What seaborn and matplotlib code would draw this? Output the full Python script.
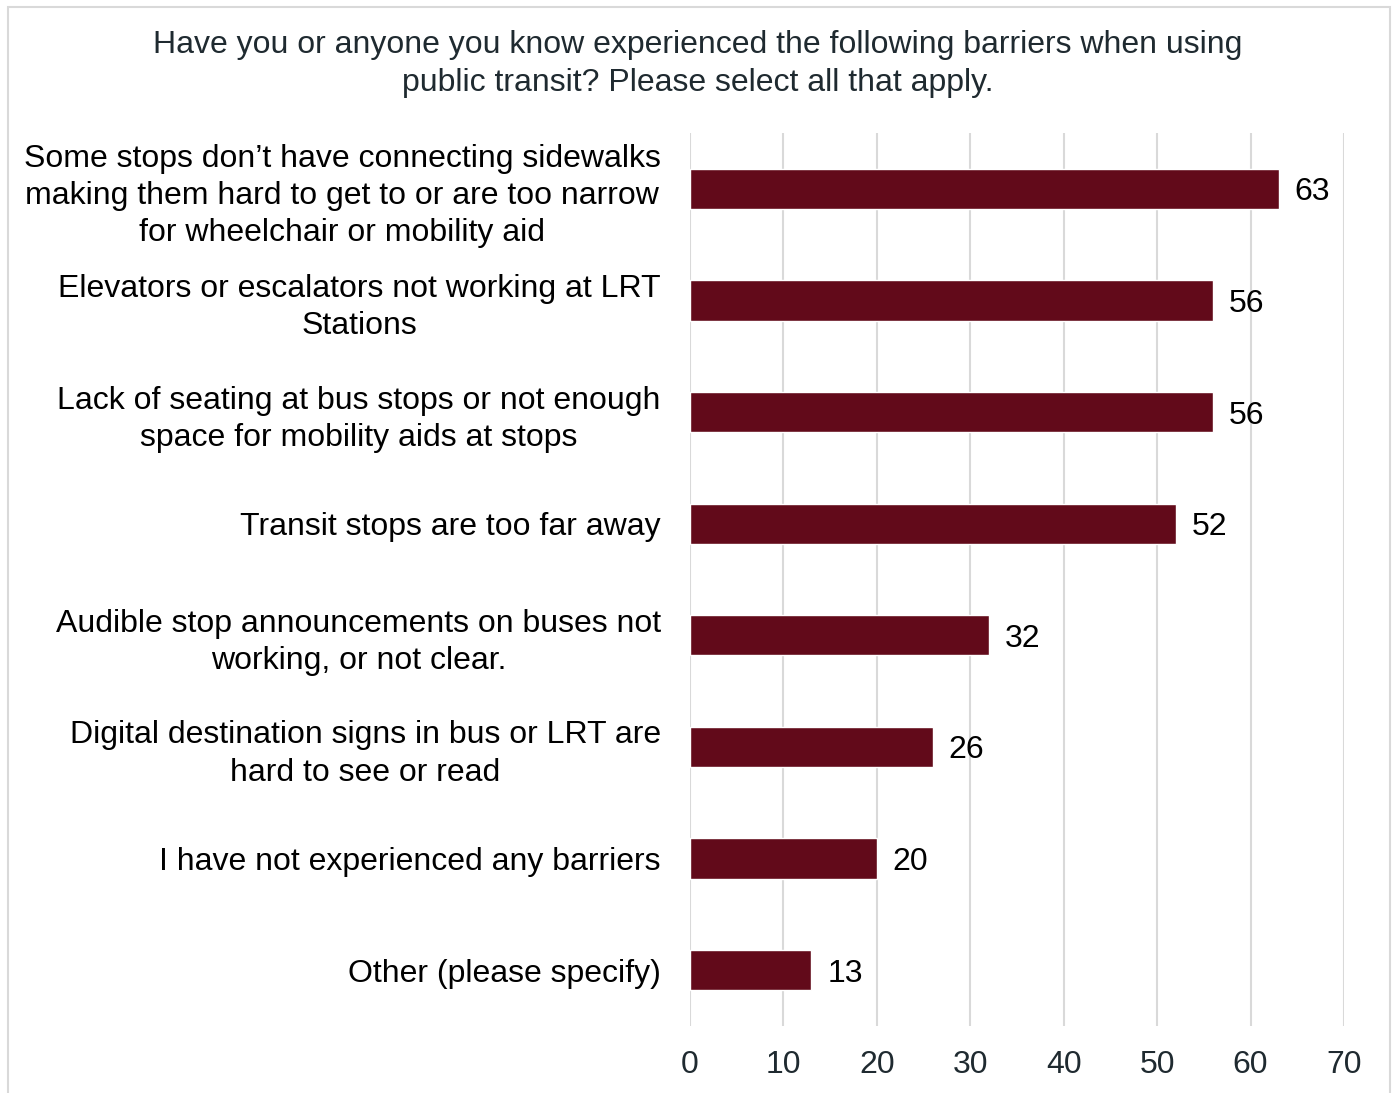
import matplotlib
matplotlib.use("Agg")
import matplotlib.pyplot as plt
import seaborn as sns
import pandas as pd
from matplotlib.patches import Rectangle

categories = [
    "Some stops don\u2019t have connecting sidewalks\nmaking them hard to get to or are too narrow\nfor wheelchair or mobility aid",
    "Elevators or escalators not working at LRT\nStations",
    "Lack of seating at bus stops or not enough\nspace for mobility aids at stops",
    "Transit stops are too far away",
    "Audible stop announcements on buses not\nworking, or not clear.",
    "Digital destination signs in bus or LRT are\nhard to see or read",
    "I have not experienced any barriers",
    "Other (please specify)",
]
values = [63, 56, 56, 52, 32, 26, 20, 13]
x_ticks = [0, 10, 20, 30, 40, 50, 60, 70]
title = "Have you or anyone you know experienced the following barriers when using\npublic transit? Please select all that apply."

df = pd.DataFrame({"barrier": categories, "count": values})

sns.set_theme(style="white")
plt.rcParams["font.family"] = ["Liberation Sans", "DejaVu Sans"]

W, H = 1395, 1093
fig = plt.figure(figsize=(W / 100, H / 100), dpi=100)
ax = fig.add_axes([690 / W, 1 - 1026 / H, (1344 - 690) / W, (1026 - 133) / H])

bar_color = "#620a1a"
sns.barplot(data=df, y="barrier", x="count", orient="h", color=bar_color,
            width=0.36, saturation=1, ax=ax, zorder=3)

ax.set_xlim(0, 70)
ax.set_xticks(x_ticks)
ax.set_xticklabels([str(t) for t in x_ticks])
ax.set_xlabel("")
ax.set_ylabel("")
for s in ax.spines.values():
    s.set_visible(False)
ax.grid(axis="x", color="#d9d9d9", linewidth=1.5, zorder=0)
ax.grid(axis="y", visible=False)
ax.tick_params(axis="x", length=0, pad=17, labelsize=23, labelcolor="#1f2a30")
ax.tick_params(axis="y", length=0, pad=21, labelsize=23, labelcolor="#000000")
for lbl in ax.get_yticklabels():
    lbl.set_horizontalalignment("right")
    lbl.set_multialignment("center")
    lbl.set_linespacing(1.32)

for i, v in enumerate(values):
    ax.text(v + 1.7, i, str(v), va="center_baseline", ha="left", fontsize=23,
            color="#000000")

fig.text(0.5, 1 - 64 / H, title, ha="center", va="center", fontsize=23,
         color="#1f2a30", linespacing=1.32)

fig.patches.append(Rectangle((8 / W, -0.01), (1390 - 8) / W, 1 - 7 / H + 0.01,
                             transform=fig.transFigure, fill=False,
                             edgecolor="#d9d9d9", linewidth=1.5))

fig.savefig("out.png", dpi=100, facecolor="white")
